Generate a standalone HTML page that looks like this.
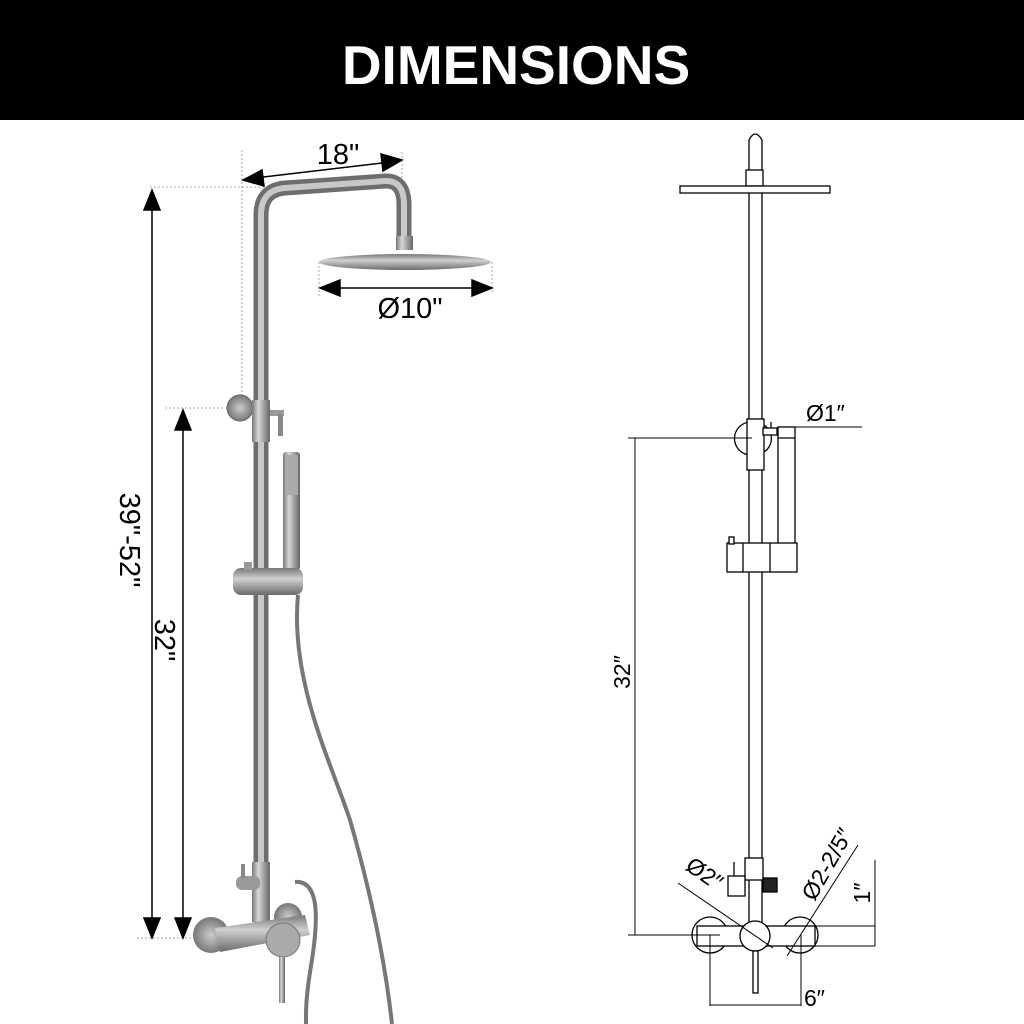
<!DOCTYPE html>
<html><head><meta charset="utf-8"><style>
html,body{margin:0;padding:0;background:#fff}
svg{display:block}
text{font-family:"Liberation Sans",sans-serif}
</style></head><body>
<svg width="1024" height="1024" viewBox="0 0 1024 1024" xmlns="http://www.w3.org/2000/svg">
<defs>
<linearGradient id="m" x1="0" x2="1" y1="0" y2="0">
<stop offset="0" stop-color="#777"/><stop offset="0.35" stop-color="#d8d8d8"/><stop offset="0.7" stop-color="#9a9a9a"/><stop offset="1" stop-color="#666"/>
</linearGradient>
<linearGradient id="mv" x1="0" x2="0" y1="0" y2="1">
<stop offset="0" stop-color="#777"/><stop offset="0.4" stop-color="#d0d0d0"/><stop offset="1" stop-color="#6a6a6a"/>
</linearGradient>
<radialGradient id="rc"><stop offset="0" stop-color="#ccc"/><stop offset="1" stop-color="#777"/></radialGradient>
</defs>
<rect x="0" y="0" width="1024" height="120" fill="#000"/>
<text x="516" y="84" fill="#fff" font-size="55" font-weight="bold" text-anchor="middle">DIMENSIONS</text>

<g stroke="#555" stroke-width="0.5" stroke-dasharray="2,2" fill="none">
<line x1="242" y1="150" x2="242" y2="395"/>
<line x1="402" y1="152" x2="402" y2="185"/>
<line x1="150" y1="187" x2="272" y2="187"/>
<line x1="165" y1="408" x2="240" y2="408"/>
<line x1="137" y1="938" x2="195" y2="938"/>
<line x1="319" y1="262" x2="319" y2="298"/>
<line x1="492" y1="262" x2="492" y2="292"/>
</g>
<path d="M261 930 L261 215 Q261 190 285 188 L385 181 Q404 180 404 205 L404 238" fill="none" stroke="#6e6e6e" stroke-width="15" stroke-linejoin="round"/>
<path d="M261 930 L261 215 Q261 190 285 188 L385 181 Q404 180 404 205 L404 238" fill="none" stroke="#c8c8c8" stroke-width="6"/>
<rect x="396" y="236" width="17" height="14" fill="url(#m)"/>
<ellipse cx="405" cy="262" rx="86" ry="8" fill="url(#mv)"/>
<circle cx="240" cy="408" r="13" fill="url(#rc)" stroke="#666"/>
<rect x="252" y="400" width="18" height="42" fill="url(#m)"/>
<rect x="270" y="410" width="14" height="6" fill="#999"/>
<rect x="278" y="414" width="5" height="22" fill="#888"/>
<rect x="283" y="452" width="17" height="118" rx="3" fill="url(#m)"/>
<rect x="285" y="455" width="13" height="40" fill="#aaa"/>
<rect x="233" y="568" width="70" height="27" rx="8" fill="url(#mv)"/>
<rect x="244" y="562" width="8" height="8" fill="#999"/>
<path d="M298 595 C290 680 330 760 350 820 C370 890 385 960 392 1024" fill="none" stroke="#777" stroke-width="4"/>
<path d="M295 882 C320 880 318 920 312 960 C305 1000 306 1015 306 1024" fill="none" stroke="#777" stroke-width="4"/>
<rect x="252" y="862" width="18" height="60" fill="url(#m)"/>
<rect x="236" y="876" width="24" height="14" rx="6" fill="#999"/>
<rect x="241" y="864" width="4" height="14" fill="#888"/>
<circle cx="288" cy="917" r="14" fill="url(#rc)"/>
<circle cx="211" cy="935" r="18" fill="url(#rc)"/>
<path d="M215 928 L305 915 L310 935 L220 952 Z" fill="url(#mv)"/>
<circle cx="283" cy="940" r="17" fill="#aaa" stroke="#777"/>
<rect x="279" y="957" width="6" height="46" fill="url(#m)"/>
<g stroke="#000" stroke-width="1.5" fill="#000">
<line x1="255" y1="178" x2="390" y2="162"/>
<polygon points="243,180 262,170 264,186"/>
<polygon points="402,160 381,154 383,171"/>
<line x1="335" y1="288" x2="478" y2="288"/>
<polygon points="320,288 340,280 340,296"/>
<polygon points="492,288 472,280 472,296"/>
<line x1="152" y1="200" x2="152" y2="925"/>
<polygon points="152,190 144,210 160,210"/>
<polygon points="152,938 144,918 160,918"/>
<line x1="183" y1="420" x2="183" y2="925"/>
<polygon points="183,410 175,430 191,430"/>
<polygon points="183,938 175,918 191,918"/>
</g>
<text x="338" y="164" font-size="29" text-anchor="middle">18"</text>
<text x="410" y="318" font-size="29" text-anchor="middle">Ø10"</text>
<text transform="translate(120,540) rotate(90)" font-size="29" text-anchor="middle">39"-52"</text>
<text transform="translate(155,640) rotate(90)" font-size="29" text-anchor="middle">32"</text>

<g stroke="#000" stroke-width="1.3" fill="#fff">
<path d="M749 175 L749 140 Q755 128 762 140 L762 175 Z"/>
<rect x="746" y="170" width="17" height="16"/>
<rect x="680" y="186" width="150" height="7"/>
<line x1="749" y1="193" x2="749" y2="420"/>
<line x1="762" y1="193" x2="762" y2="420"/>
<path d="M751 422 A16 16 0 0 0 751 455"/>
<path d="M764 425 A16 16 0 0 1 764 452"/>
<rect x="747" y="419" width="17" height="51"/>
<rect x="763" y="428" width="14" height="7"/>
<line x1="771" y1="422" x2="771" y2="428"/>
<rect x="778" y="427" width="17" height="140"/>
<line x1="778" y1="438" x2="795" y2="438"/>
<line x1="749" y1="470" x2="749" y2="925"/>
<line x1="762" y1="470" x2="762" y2="925"/>
<rect x="727" y="543" width="70" height="29"/>
<rect x="729" y="537" width="5" height="7"/>
<line x1="743" y1="543" x2="743" y2="572"/>
<line x1="770" y1="543" x2="770" y2="572"/>
<rect x="745" y="858" width="18" height="22"/>
<rect x="728" y="876" width="17" height="20"/>
<line x1="734" y1="862" x2="734" y2="876"/>
<rect x="763" y="878" width="14" height="14" fill="#222"/>
<circle cx="710" cy="935" r="18"/>
<circle cx="800" cy="935" r="18"/>
<rect x="697" y="926" width="118" height="20"/>
<circle cx="755" cy="936" r="15"/>
<rect x="753" y="951" width="5" height="42"/>
</g>
<g stroke="#000" stroke-width="1" fill="none">
<line x1="778" y1="427" x2="862" y2="427"/>
<line x1="628" y1="438" x2="752" y2="438"/>
<line x1="635" y1="438" x2="635" y2="935"/>
<line x1="628" y1="935" x2="720" y2="935"/>
<line x1="710" y1="935" x2="710" y2="1006"/>
<line x1="801" y1="935" x2="801" y2="1006"/>
<line x1="710" y1="1005" x2="801" y2="1005"/>
<line x1="875" y1="860" x2="875" y2="946"/>
<line x1="815" y1="926" x2="875" y2="926"/>
<line x1="815" y1="946" x2="875" y2="946"/>
<line x1="678" y1="883" x2="773" y2="948"/>
<line x1="787" y1="956" x2="858" y2="845"/>
</g>
<text x="806" y="421" font-size="23">Ø1″</text>
<text transform="translate(630,672) rotate(-90)" font-size="23" text-anchor="middle">32″</text>
<text x="804" y="1006" font-size="23">6″</text>
<text transform="translate(870,893) rotate(-90)" font-size="23" text-anchor="middle">1″</text>
<text transform="translate(700,880) rotate(35)" font-size="23" text-anchor="middle">Ø2″</text>
<text transform="translate(834,868) rotate(-60)" font-size="23" text-anchor="middle">Ø2-2/5″</text>
</svg>
</body></html>
